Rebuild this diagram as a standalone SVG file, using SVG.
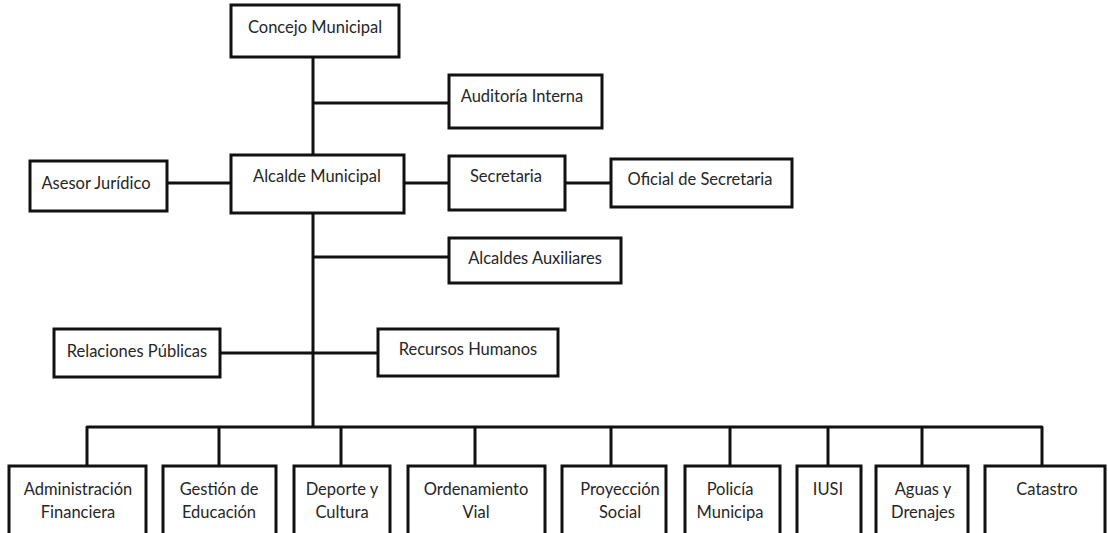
<svg xmlns="http://www.w3.org/2000/svg" width="1108" height="533" viewBox="0 0 1108 533">
<style>
.box{fill:#fff;stroke:#111;stroke-width:3}
.ln{fill:none;stroke:#111;stroke-width:3;stroke-linejoin:round}
text{font-family:Lato,"Liberation Sans",sans-serif;font-size:16.5px;fill:#262626;text-anchor:middle}
</style>
<rect width="1108" height="533" fill="#fff"/>
<g id="connectors">
<path class="ln" d="M313 57V427"/>
<path class="ln" d="M313 103H449"/>
<path class="ln" d="M167 183H231"/>
<path class="ln" d="M404 183H449"/>
<path class="ln" d="M565 183H611"/>
<path class="ln" d="M313 257H449"/>
<path class="ln" d="M220 353H378"/>
<path class="ln" d="M87 466V427H1042V466"/>
<path class="ln" d="M219 427V466M341 427V466M475 427V466M611 427V466M730 427V466M828 427V466M922 427V466"/>
</g>
<g id="concejo"><rect class="box" x="231" y="5" width="168" height="52"/><text x="315" y="33">Concejo Municipal</text></g>
<g id="auditoria"><rect class="box" x="449" y="75" width="153" height="53"/><text x="522" y="102">Auditoría Interna</text></g>
<g id="asesor"><rect class="box" x="30" y="161" width="137" height="50"/><text x="96" y="189">Asesor Jurídico</text></g>
<g id="alcalde"><rect class="box" x="231" y="155" width="173" height="58"/><text x="317" y="182">Alcalde Municipal</text></g>
<g id="secretaria"><rect class="box" x="449" y="156" width="116" height="54"/><text x="506" y="182">Secretaria</text></g>
<g id="oficial"><rect class="box" x="611" y="159" width="181" height="48"/><text x="700" y="185">Oficial de Secretaria</text></g>
<g id="auxiliares"><rect class="box" x="449" y="238" width="172" height="45"/><text x="535" y="264">Alcaldes Auxiliares</text></g>
<g id="relaciones"><rect class="box" x="54" y="329" width="166" height="48"/><text x="137" y="357">Relaciones Públicas</text></g>
<g id="recursos"><rect class="box" x="378" y="329" width="180" height="47"/><text x="468" y="355">Recursos Humanos</text></g>
<g id="admin"><rect class="box" x="9" y="466" width="137" height="74"/><text x="78" y="495">Administración</text><text x="78" y="518">Financiera</text></g>
<g id="gestion"><rect class="box" x="163" y="466" width="113" height="74"/><text x="219" y="495">Gestión de</text><text x="219" y="518">Educación</text></g>
<g id="deporte"><rect class="box" x="294" y="466" width="96" height="74"/><text x="342" y="495">Deporte y</text><text x="342" y="518">Cultura</text></g>
<g id="ordenamiento"><rect class="box" x="408" y="466" width="137" height="74"/><text x="476" y="495">Ordenamiento</text><text x="476" y="518">Vial</text></g>
<g id="proyeccion"><rect class="box" x="562" y="466" width="104" height="74"/><text x="620" y="495">Proyección</text><text x="620" y="518">Social</text></g>
<g id="policia"><rect class="box" x="685" y="466" width="95" height="74"/><text x="730" y="495">Policía</text><text x="730" y="518">Municipa</text></g>
<g id="iusi"><rect class="box" x="797" y="466" width="64" height="74"/><text x="828" y="495">IUSI</text></g>
<g id="aguas"><rect class="box" x="876" y="466" width="92" height="74"/><text x="923" y="495">Aguas y</text><text x="923" y="518">Drenajes</text></g>
<g id="catastro"><rect class="box" x="985" y="466" width="120" height="74"/><text x="1047" y="495">Catastro</text></g>
</svg>
